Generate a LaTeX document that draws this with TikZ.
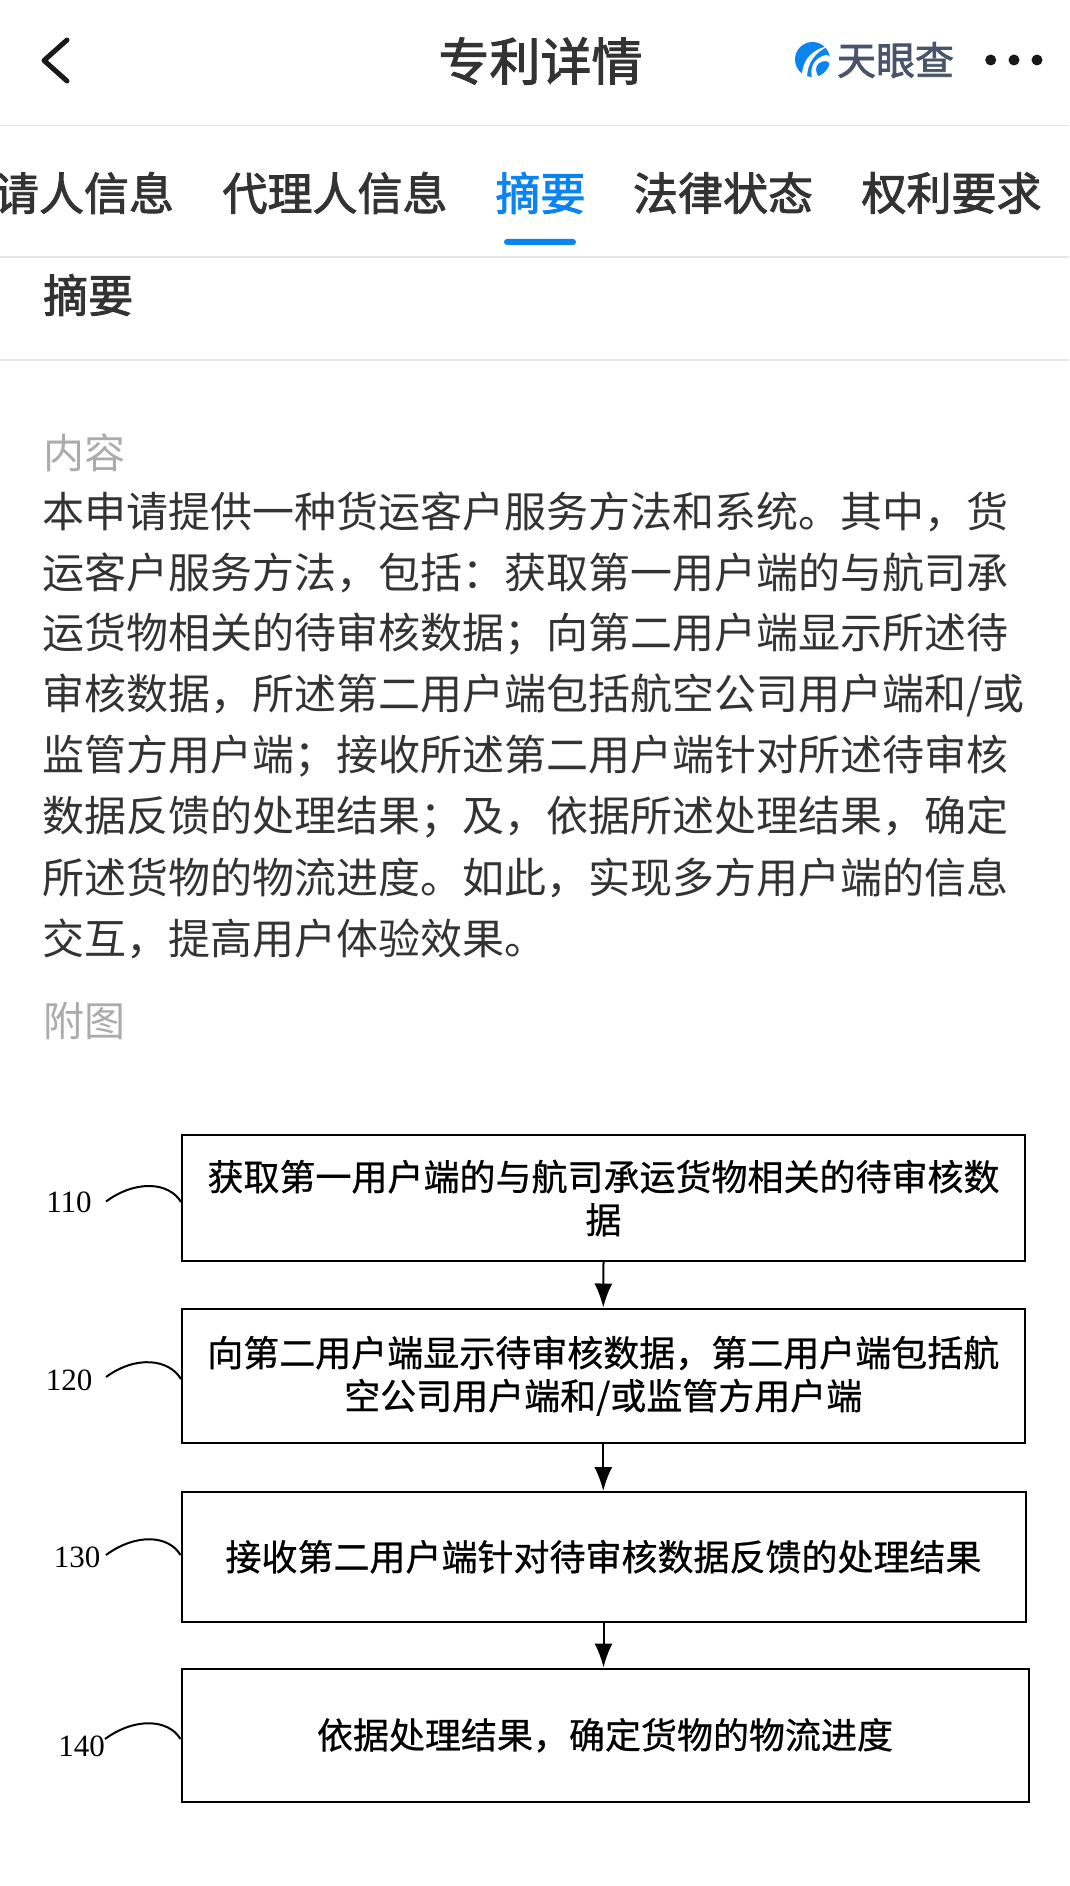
\documentclass[tikz,border=0pt]{standalone}
\usepackage{fontspec}
\setmainfont{Noto Sans CJK SC}
\newfontfamily\labfont{Liberation Serif}
\newfontfamily\medfont[FakeBold=2]{Noto Sans CJK SC}
\newfontfamily\flowfont[FakeBold=0.7]{Noto Sans CJK SC}
\usetikzlibrary{arrows.meta}
\definecolor{inkdark}{HTML}{333333}
\definecolor{rulegray}{HTML}{E6E6E6}
\definecolor{softgray}{HTML}{ABABAB}
\definecolor{tabblue}{HTML}{0A84F0}
\definecolor{logoink}{HTML}{4A5468}
\newcommand{\fsz}[2]{\fontsize{#1}{#2}\selectfont}
\tikzset{
  divider/.style={draw=rulegray,line width=1.6pt},
  tab/.style={font=\medfont\fsz{45}{50},text=inkdark,inner sep=0pt,anchor=center},
  softlabel/.style={font=\fsz{41}{46},text=softgray,inner sep=0pt,anchor=west},
  paraline/.style={font=\fsz{42}{48},text=inkdark,inner sep=0pt,anchor=west},
  flowbox/.style={draw=black,line width=2pt,fill=white,inner sep=0pt,align=center,font=\flowfont\fsz{36}{43},text=black,anchor=north west},
  flowarrow/.style={draw=black,line width=2pt,-{Latex[length=24pt,width=18pt]}},
  reflabel/.style={font=\labfont\fsz{31}{34},text=black,inner sep=0pt},
  leader/.style={draw=black,line width=2pt}
}
\begin{document}
\begin{tikzpicture}[x=1pt,y=-1pt]
\useasboundingbox (0,0) rectangle (1069,1886);
\clip (0,0) rectangle (1069,1886);
\fill[white] (0,0) rectangle (1069,1886);
% header
\draw[draw=black!90,line width=5pt,line cap=round,line join=round] (67,40) -- (44,60.5) -- (67,81);
\node[inner sep=0pt,font=\medfont\fsz{51}{56},text=inkdark] (title) at (540.5,61) {专利详情};
\fill[tabblue] (812.5,59.5) circle (17.5);
\fill[white] (802,76) .. controls (802,60) and (812,49) .. (829,46) .. controls (815,52) and (807,63) .. (807,78) -- cycle;
\fill[white] (812,78) .. controls (809,66) and (816,57) .. (826,55) .. controls (830,55) and (832,58) .. (831,66) .. controls (829,60) and (824,60) .. (819,63) .. controls (815,66) and (815,72) .. (819,78) -- cycle;
\node[inner sep=0pt,font=\medfont\fsz{39}{44},text=logoink] (logo) at (895.5,60) {天眼查};
\foreach \dx in {990.7,1014,1037} \fill[black!90] (\dx,60) circle (5.5);
\draw[divider] (0,125.7) -- (1069,125.7);
% tabs
\node[tab] (t1) at (84,193) {请人信息};
\node[tab] (t2) at (335,193) {代理人信息};
\node[tab,text=tabblue] (t3) at (540.5,193) {摘要};
\node[tab] (t4) at (723,193) {法律状态};
\node[tab] (t5) at (951.5,193) {权利要求};
\fill[tabblue,rounded corners=3pt] (504,239) rectangle (576,245);
\draw[divider] (0,257) -- (1069,257);
\node[tab,anchor=west] (sub) at (43,295) {摘要};
\draw[divider] (0,360) -- (1069,360);
% paragraph
\node[softlabel] (nr) at (43,453) {内容};
\node[paraline] (p1) at (42,512) {本申请提供一种货运客户服务方法和系统。其中，货};
\node[paraline] (p2) at (42,572.5) {运客户服务方法，包括：获取第一用户端的与航司承};
\node[paraline] (p3) at (42,634) {运货物相关的待审核数据；向第二用户端显示所述待};
\node[paraline] (p4) at (42,695) {审核数据，所述第二用户端包括航空公司用户端和/或};
\node[paraline] (p5) at (42,756) {监管方用户端；接收所述第二用户端针对所述待审核};
\node[paraline] (p6) at (42,817.5) {数据反馈的处理结果；及，依据所述处理结果，确定};
\node[paraline] (p7) at (42,878) {所述货物的物流进度。如此，实现多方用户端的信息};
\node[paraline] (p8) at (42,939) {交互，提高用户体验效果。};
\node[softlabel] (ft) at (43,1021) {附图};
% flowchart
\node[flowbox,minimum width=843pt,minimum height=126pt] (b1) at (181,1134) {获取第一用户端的与航司承运货物相关的待审核数\\据};
\node[flowbox,minimum width=842.5pt,minimum height=134.5pt] (b2) at (181,1307.5) {向第二用户端显示待审核数据，第二用户端包括航\\空公司用户端和/或监管方用户端};
\node[flowbox,minimum width=844pt,minimum height=129.5pt] (b3) at (180.5,1491) {接收第二用户端针对待审核数据反馈的处理结果};
\node[flowbox,minimum width=847pt,minimum height=133.5pt] (b4) at (180.5,1667.5) {依据处理结果，确定货物的物流进度};
\draw[flowarrow] (b1.south) -- (b2.north);
\draw[flowarrow] (b2.south) -- (b2.south |- b3.north);
\draw[flowarrow] (b3.south) -- (b3.south |- b4.north);
% reference numbers
\node[reflabel] (l1) at (69,1202) {110};
\node[reflabel] (l2) at (69,1380.5) {120};
\node[reflabel] (l3) at (77,1557) {130};
\node[reflabel] (l4) at (81.5,1746) {140};
\coordinate (s1) at (106,1201.5);
\coordinate (s2) at (106,1377);
\coordinate (s3) at (106,1555);
\coordinate (s4) at (105,1739);
\coordinate (e1) at (181,1202);
\coordinate (e2) at (181,1379);
\coordinate (e3) at (180.5,1555);
\coordinate (e4) at (180.5,1739);
\foreach \i in {1,2,3,4}
  \draw[leader] (s\i) .. controls +(30,-22) and +(-12,-20) .. (e\i);
\end{tikzpicture}
\end{document}
